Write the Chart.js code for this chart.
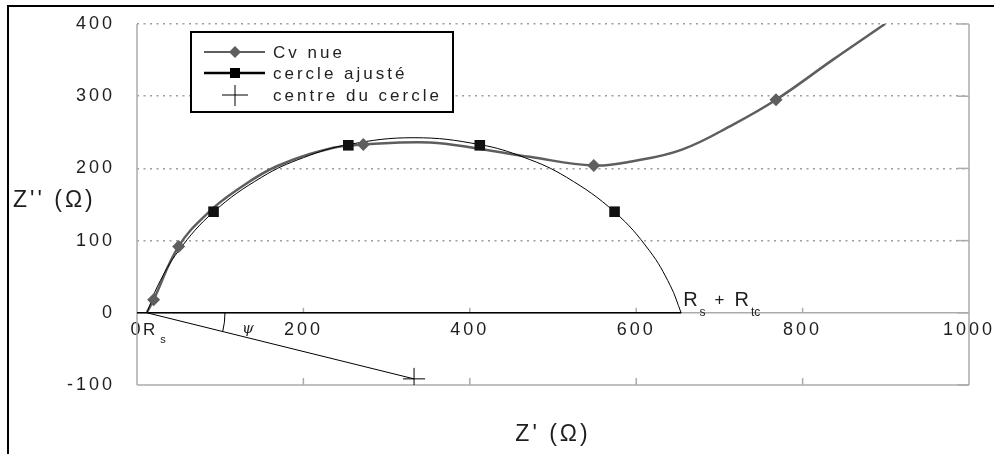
<!DOCTYPE html>
<html><head><meta charset="utf-8">
<script src="https://cdn.jsdelivr.net/npm/chart.js@4/dist/chart.umd.min.js"></script>
<style>html,body{margin:0;padding:0;background:#fff;}#wrap{width:994px;height:454px;}</style>
</head><body><div id="wrap"><canvas id="c" width="994" height="454"></canvas></div>
<script>
// ---- data (Z' and Z'' in ohm) ----
const xTicks = [0, 200, 400, 600, 800, 1000];
const yTicks = [-100, 0, 100, 200, 300, 400];
const cvNueZre = [12, 20, 50, 85, 120, 168, 236, 272, 352, 412, 472, 549, 596, 655, 717, 768, 837, 899];
const cvNueZim = [1, 18, 92, 138, 170, 203, 228.5, 233, 236, 227, 216, 204, 210, 226, 261, 295, 351, 400];
const cvNueMarkZre = [20, 50, 272, 549, 768];
const cvNueMarkZim = [18, 92, 233, 204, 295];
const cercleZre = [12, 25, 50, 92, 150, 200, 254, 333, 412, 466, 516, 574, 616, 641, 654];
const cercleZim = [0, 37.7, 85.9, 139.7, 187.9, 214.9, 233, 242.5, 233, 214.9, 187.9, 139.7, 85.9, 37.7, 0];
const cercleMarkZre = [92, 254, 412, 574];
const cercleMarkZim = [140, 232, 232, 140];
const centreZre = [333];
const centreZim = [-91.5];
const diamZre = [0, 654];
const diamZim = [0, 0];
const rayonZre = [12, 333];
const rayonZim = [0, -91.5];
const Rs = 12;
const RsRtc = 654;
const legendLabels = ['Cv nue', 'cercle ajusté', 'centre du cercle'];

const pts = (xs, ys) => xs.map((x, i) => ({x: x, y: ys[i]}));
const FONT = '"Liberation Sans", Arial, sans-serif';
const GRAY = '#5e5e5e';
Chart.defaults.font.family = FONT;

const deco = {
  id: 'deco',
  beforeLayout(chart) { chart.ctx.letterSpacing = '3px'; },
  beforeDraw(chart) { chart.ctx.letterSpacing = '3px'; },
  beforeDatasetsDraw(chart) {
    const {ctx, chartArea: a, scales: {x, y}} = chart;
    const line = (x1, y1, x2, y2) => { ctx.beginPath(); ctx.moveTo(x1, y1); ctx.lineTo(x2, y2); ctx.stroke(); };
    ctx.save();
    ctx.strokeStyle = '#ababab'; ctx.lineWidth = 1.5; ctx.setLineDash([]);
    line(a.left, a.top, a.left, a.bottom);
    line(a.right, a.top, a.right, a.bottom);
    line(a.left, a.bottom, a.right, a.bottom);
    const y0 = y.getPixelForValue(0);
    line(a.left, y0, a.right, y0);
    xTicks.slice(1, -1).forEach(v => {
      const px = x.getPixelForValue(v);
      line(px, a.bottom, px, a.bottom - 7);
      line(px, y0, px, y0 - 5);
    });
    yTicks.forEach(v => { const py = y.getPixelForValue(v); line(a.right - 12, py, a.right, py); });
    ctx.restore();
  },
  afterDraw(chart) {
    const {ctx, scales: {x, y}} = chart;
    ctx.save();
    ctx.fillStyle = '#1e1e1e';
    ctx.textBaseline = 'alphabetic';
    ctx.textAlign = 'left';
    const txt = (s, px, py, size, ls, style) => {
      ctx.font = (style || '') + ' ' + size + 'px ' + FONT;
      ctx.letterSpacing = ls + 'px';
      ctx.fillText(s, px, py);
      return px + ctx.measureText(s).width;
    };
    // Rs label
    const rsPx = x.getPixelForValue(Rs), y0 = y.getPixelForValue(0);
    let cx = txt('R', rsPx - 4, y0 + 22, 17, 1);
    txt('s', cx + 4, y0 + 30, 11, 0);
    // Rs + Rtc label
    const rtPx = x.getPixelForValue(RsRtc);
    cx = txt('R', rtPx + 2, y0 - 7, 20, 1);
    cx = txt('s', cx + 1, y0 + 3, 12, 0);
    cx = txt('+', cx + 9, y0 - 8, 17, 0);
    cx = txt('R', cx + 10, y0 - 7, 20, 1);
    txt('tc', cx + 1, y0 + 3, 12, 0);
    // angle psi
    const cxp = x.getPixelForValue(centreZre[0]), cyp = y.getPixelForValue(centreZim[0]);
    const ang = Math.atan2(cyp - y0, cxp - rsPx);
    ctx.strokeStyle = '#000'; ctx.lineWidth = 1;
    ctx.beginPath(); ctx.arc(rsPx, y0, 78, 0, ang); ctx.stroke();
    ctx.textAlign = 'center';
    ctx.font = 'italic 15px "DejaVu Serif", serif'; ctx.letterSpacing = '0px';
    ctx.fillText('ψ', rsPx + 101, y0 + 20);
    // axis titles
    ctx.textAlign = 'left';
    ctx.font = '23px ' + FONT; ctx.letterSpacing = '3px';
    ctx.textBaseline = 'middle';
    ctx.fillText("Z'' (Ω)", 13, 201);
    ctx.textAlign = 'center';
    ctx.fillText("Z' (Ω)", 553, 435);
    // legend
    ctx.textAlign = 'left';
    ctx.fillStyle = '#fff';
    ctx.fillRect(191, 32, 262, 80);
    ctx.strokeStyle = '#000'; ctx.lineWidth = 2;
    ctx.strokeRect(191, 32, 262, 80);
    const rows = [52, 73, 95];
    ctx.lineWidth = 2; ctx.strokeStyle = GRAY;
    ctx.beginPath(); ctx.moveTo(204, rows[0]); ctx.lineTo(265, rows[0]); ctx.stroke();
    ctx.fillStyle = GRAY;
    ctx.beginPath(); ctx.moveTo(235, rows[0] - 6); ctx.lineTo(241, rows[0]); ctx.lineTo(235, rows[0] + 6); ctx.lineTo(229, rows[0]); ctx.closePath(); ctx.fill();
    ctx.lineWidth = 2.5; ctx.strokeStyle = '#000';
    ctx.beginPath(); ctx.moveTo(204, rows[1]); ctx.lineTo(265, rows[1]); ctx.stroke();
    ctx.fillStyle = '#000'; ctx.fillRect(230, rows[1] - 5, 10, 10);
    ctx.lineWidth = 1;
    ctx.beginPath(); ctx.moveTo(222, rows[2]); ctx.lineTo(248, rows[2]); ctx.moveTo(235, rows[2] - 10); ctx.lineTo(235, rows[2] + 11); ctx.stroke();
    ctx.fillStyle = '#222';
    ctx.font = '17px ' + FONT; ctx.letterSpacing = '3px';
    legendLabels.forEach((s, i) => ctx.fillText(s, 273, rows[i] + 1));
    // outer frame
    ctx.strokeStyle = '#000'; ctx.lineWidth = 2;
    ctx.strokeRect(8, 6, 1100, 1000);
    ctx.restore();
  }
};

new Chart(document.getElementById('c'), {
  type: 'scatter',
  data: {
    datasets: [
      {label: 'cercle ajusté', data: pts(cercleMarkZre, cercleMarkZim), showLine: false,
       pointStyle: 'rect', pointRadius: 7.5, backgroundColor: '#111', borderWidth: 0},
      {label: 'Cv nue', data: pts(cvNueMarkZre, cvNueMarkZim), showLine: false,
       pointStyle: 'rectRot', pointRadius: 6.5, backgroundColor: GRAY, borderWidth: 0},
      {label: 'centre du cercle', data: pts(centreZre, centreZim), showLine: false,
       pointStyle: 'cross', pointRadius: 11, borderColor: '#000', borderWidth: 1},
      {label: 'cercle', data: pts(cercleZre, cercleZim), showLine: true, tension: 0.4,
       pointRadius: 0, borderColor: '#000', borderWidth: 1},
      {label: 'cv', data: pts(cvNueZre, cvNueZim), showLine: true, tension: 0.4,
       pointRadius: 0, borderColor: GRAY, borderWidth: 2.5},
      {label: 'diam', data: pts(diamZre, diamZim), showLine: true, tension: 0,
       pointRadius: 0, borderColor: '#000', borderWidth: 1.5},
      {label: 'rayon', data: pts(rayonZre, rayonZim), showLine: true, tension: 0,
       pointRadius: 0, borderColor: '#000', borderWidth: 1}
    ]
  },
  options: {
    responsive: false,
    animation: false,
    devicePixelRatio: 1,
    layout: {padding: {left: 0, top: 24, right: 25, bottom: 69}},
    plugins: {legend: {display: false}, tooltip: {enabled: false}},
    scales: {
      x: {
        type: 'linear', min: 0, max: 1000, position: {y: 0},
        afterBuildTicks: s => { s.ticks = xTicks.map(v => ({value: v})); },
        afterFit: s => { s.paddingLeft = 0; s.paddingRight = 0; s.paddingTop = 0; s.paddingBottom = 0; },
        ticks: {font: {size: 18}, color: '#1e1e1e', padding: 6, maxRotation: 0,
                callback: v => String(v)},
        grid: {display: false, drawTicks: false},
        border: {display: false}
      },
      y: {
        type: 'linear', min: -100, max: 400,
        afterBuildTicks: s => { s.ticks = yTicks.map(v => ({value: v})); },
        afterFit: s => { s.width = 137; s.paddingTop = 0; s.paddingBottom = 0; s.paddingLeft = 0; s.paddingRight = 0; },
        ticks: {font: {size: 18}, color: '#1e1e1e', padding: 22, callback: v => String(v)},
        grid: {drawTicks: false, lineWidth: 1.5,
               color: c => (c.tick && c.tick.value > 0) ? '#9c9c9c' : 'rgba(0,0,0,0)'},
        border: {display: false, dash: [2, 4.5]}
      }
    }
  },
  plugins: [deco]
});
</script>
</body></html>
